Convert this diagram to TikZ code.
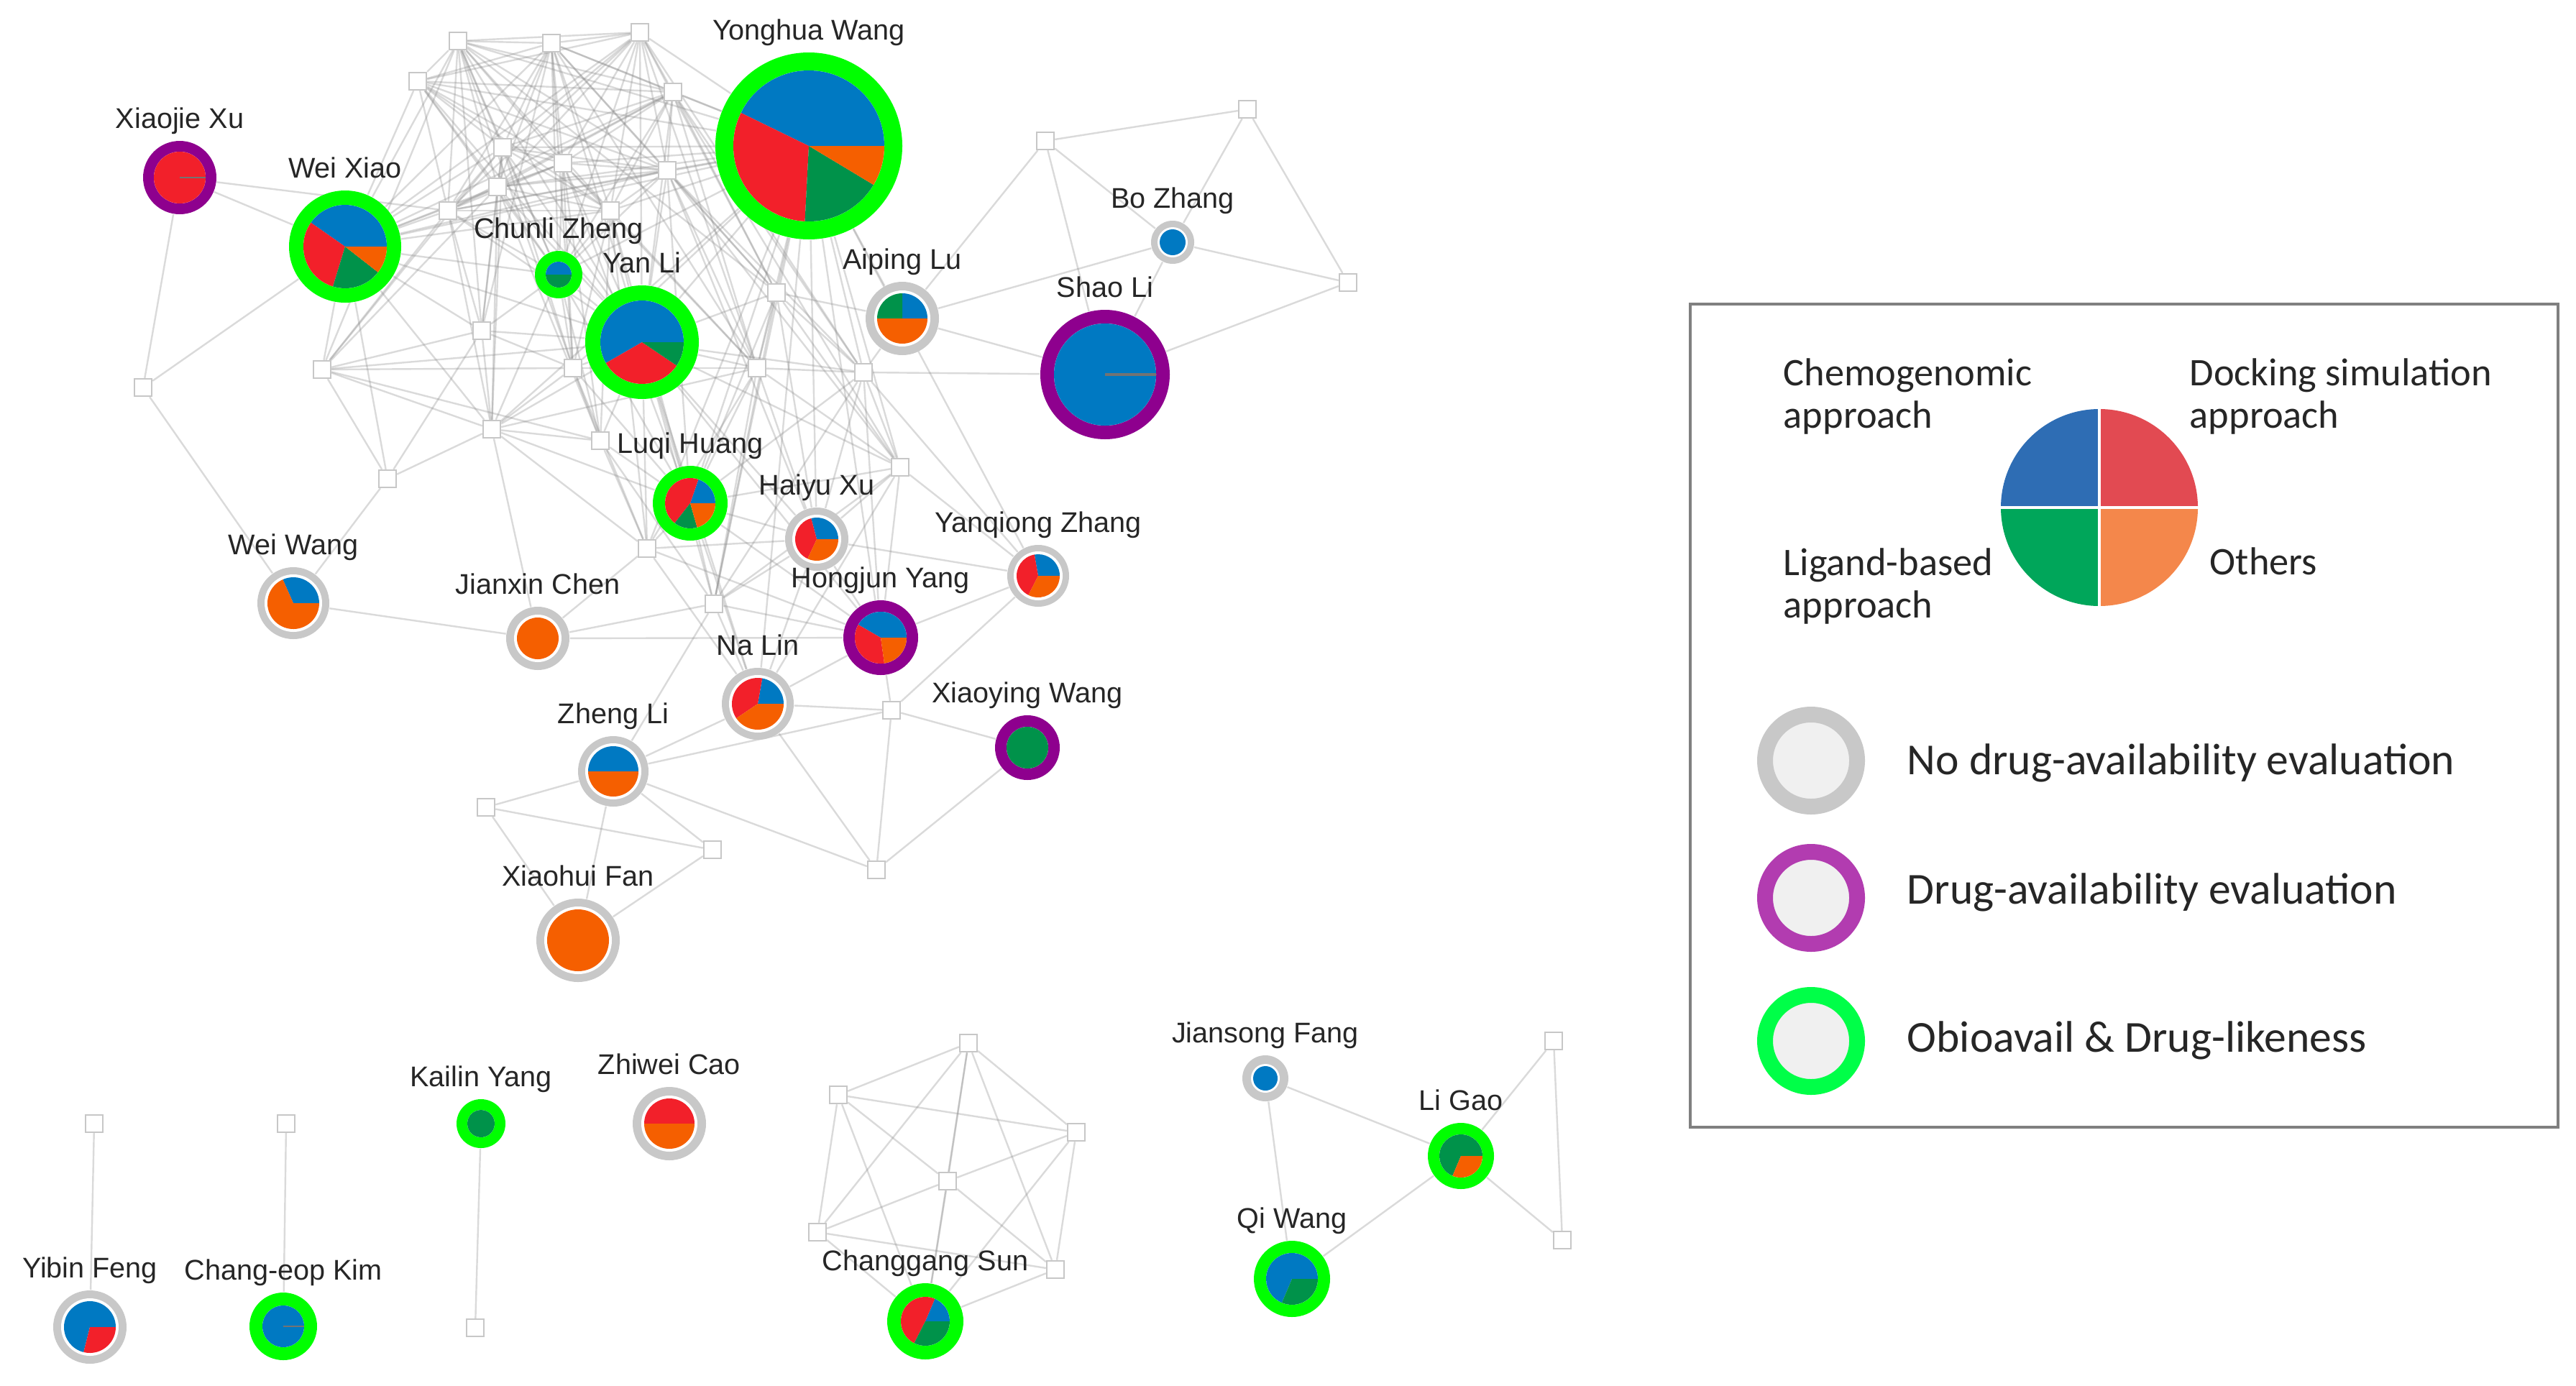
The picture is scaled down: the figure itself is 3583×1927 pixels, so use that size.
\documentclass[tikz,border=0pt]{standalone}
\usepackage{fontspec}
\setmainfont{Liberation Sans}
\newfontfamily\calib{Carlito}
\usetikzlibrary{calc}
\pgfdeclarelayer{bgl}
\pgfdeclarelayer{edgel}
\pgfsetlayers{bgl,edgel,main}
\definecolor{pblue}{HTML}{0079C2}
\definecolor{pred}{HTML}{F2202A}
\definecolor{pgreen}{HTML}{00924A}
\definecolor{porange}{HTML}{F55F00}
\definecolor{rgreen}{HTML}{00FF00}
\definecolor{rpurple}{HTML}{8E008E}
\definecolor{rgrey}{HTML}{C8C8C8}
\definecolor{lblue}{HTML}{2E6DB4}
\definecolor{lred}{HTML}{E24A52}
\definecolor{lgreen}{HTML}{00A65A}
\definecolor{lorange}{HTML}{F4874B}
\definecolor{lpurple}{HTML}{B23CB0}
\definecolor{lgring}{HTML}{00FF48}
\definecolor{legfill}{HTML}{F0F0F0}
\tikzset{
  sqn/.style={draw=black!22, fill=white, line width=0.6pt, minimum size=6pt, inner sep=0pt},
  pnode/.style={circle, inner sep=0pt},
  lbl/.style={font=\fontsize{9.9}{11}\selectfont, text=black!85, inner sep=0pt},
  edge/.style={draw=black!45, opacity=0.32, line width=0.6pt},
  legtxt/.style={font=\calib\fontsize{13.6}{14.75}\selectfont, inner sep=0pt, anchor=base west, align=left, text=black!85},
  legtxtb/.style={font=\calib\fontsize{15.4}{17}\selectfont, inner sep=0pt, anchor=base west, text=black!85},
  legring/.style={circle, inner sep=0pt, minimum size=32pt, line width=5.5pt, fill=legfill},
}
% name, x, y, rin, rout, ring colour, gap, slices, label
\newcommand\pers[9]{%
  \node[pnode, minimum size={#5*0.5pt}] (#1) at (#2,-#3) {};
  \fill[#6] (#1.center) circle[radius=#5];
  \fill[white] (#1.center) circle[radius={#4+#7}];
  \foreach \c/\a/\b in {#8}{\fill[\c] (#1.center) -- ++(\a:#4) arc[start angle=\a, end angle=\b, radius=#4] -- cycle;}
  \node[lbl, anchor=base] at ([yshift=4.25pt]#1.north) {#9};
}
\begin{document}
\begin{tikzpicture}[x=0.25pt,y=0.25pt]
\useasboundingbox (0,0) rectangle (3583,-1927);
\begin{pgfonlayer}{bgl}
\fill[white] (0,0) rectangle (3583,-1927);
\end{pgfonlayer}

% ---------- square nodes ----------
\foreach \n/\x/\y in {s1/637/57, s2/767/60, s3/890/45, s4/581/113, s5/936/128, s6/699/205,
  s7/783/227, s8/692/260, s9/928/237, s10/623/293, s11/849/293, s12/670/460, s13/448/514,
  s14/539/666, s15/684/597, s16/835/613, s17/797/512, s18/1053/512, s19/1080/407,
  s20/1201/518, s21/1252/650, s22/900/763, s23/993/840, s24/1240/988, s25/199/539,
  s26/676/1123, s27/991/1182, s28/1219/1210, s29/1454/196, s30/1735/152, s31/1875/393,
  b1/131/1563, b2/398/1563, b3/661/1847,
  c1/1347/1451, c2/1166/1523, c3/1497/1575, c4/1318/1643, c5/1137/1714, c6/1468/1766,
  g1/2161/1448, g2/2173/1725}
  {\node[sqn] (\n) at (\x,-\y) {};}

% ---------- person nodes ----------
\pers{XX}{250}{247}{36}{51}{rpurple}{0}{pred/0/360}{Xiaojie Xu}
\pers{WX}{480}{343}{58}{78}{rgreen}{0}{pblue/0/145,pred/145/253,pgreen/253/322,porange/322/360}{Wei Xiao}
\pers{CZ}{777}{382}{18}{33}{rgreen}{0}{pblue/0/180,pgreen/180/360}{Chunli Zheng}
\pers{YW}{1125}{203}{105}{130}{rgreen}{0}{pblue/0/154,pred/154/267,pgreen/267/329,porange/329/360}{Yonghua Wang}
\pers{YL}{893}{476}{58}{79}{rgreen}{0}{pblue/0/210,pred/210/326,pgreen/326/360}{Yan Li}
\pers{AL}{1255}{443}{35}{51}{rgrey}{4}{pblue/0/90,pgreen/90/180,porange/180/360}{Aiping Lu}
\pers{BZ}{1631}{337}{18}{30}{rgrey}{3}{pblue/0/360}{Bo Zhang}
\pers{SL}{1537}{521}{71}{90}{rpurple}{0}{pblue/0/360}{Shao Li}
\pers{LH}{960}{700}{35}{52}{rgreen}{0}{pblue/0/71,pred/71/232,pgreen/232/286,porange/286/360}{Luqi Huang}
\pers{HX}{1136}{750}{30}{44}{rgrey}{4}{pblue/0/105,pred/105/245,porange/245/360}{Haiyu Xu}
\pers{YZ}{1444}{801}{30}{43}{rgrey}{4}{pblue/0/100,pred/100/243,porange/243/360}{Yanqiong Zhang}
\pers{HY}{1225}{887}{36}{52}{rpurple}{0}{pblue/0/150,pred/150/278,porange/278/360}{Hongjun Yang}
\pers{NL}{1054}{979}{36}{50}{rgrey}{4}{pblue/0/80,pred/80/214,porange/214/360}{Na Lin}
\pers{XW}{1429}{1040}{29}{45}{rpurple}{0}{pgreen/0/360}{Xiaoying Wang}
\pers{WW}{408}{839}{36}{50}{rgrey}{4}{pblue/0/114,porange/114/360}{Wei Wang}
\pers{JC}{748}{888}{29}{44}{rgrey}{4}{porange/0/360}{Jianxin Chen}
\pers{ZL}{853}{1073}{35}{49}{rgrey}{4}{pblue/0/180,porange/180/360}{Zheng Li}
\pers{XF}{804}{1308}{43}{58}{rgrey}{4}{porange/0/360}{Xiaohui Fan}
\pers{KY}{669}{1563}{19}{34}{rgreen}{0}{pgreen/0/360}{Kailin Yang}
\pers{ZC}{931}{1563}{35}{51}{rgrey}{4}{pred/0/180,porange/180/360}{Zhiwei Cao}
\pers{YF}{125}{1846}{36}{51}{rgrey}{4}{pblue/0/256,pred/256/360}{Yibin Feng}
\pers{CK}{394}{1845}{29}{47}{rgreen}{0}{pblue/0/360}{Chang-eop Kim}
\pers{CS}{1287}{1838}{34}{53}{rgreen}{0}{pblue/0/67,pred/67/243,pgreen/243/360}{Changgang Sun}
\pers{JF}{1760}{1500}{17}{32}{rgrey}{3}{pblue/0/360}{Jiansong Fang}
\pers{LG}{2032}{1608}{30}{46}{rgreen}{0}{pgreen/0/247,porange/247/360}{Li Gao}
\pers{QW}{1797}{1779}{36}{53}{rgreen}{0}{pblue/0/247,pgreen/247/360}{Qi Wang}
\draw[black!55, line width=0.8pt] (SL.center) -- ++(71,0);
\draw[black!55, line width=0.6pt] (XX.center) -- ++(36,0);
\draw[black!55, line width=0.6pt] (CK.center) -- ++(29,0);

% ---------- edges ----------
\begin{pgfonlayer}{edgel}
\foreach \a [count=\i] in {s1,s2,s3,s4,s5,s6,s7,s8,s9,s10,s11,WX,CZ,YL,YW}{
  \foreach \b [count=\j] in {s1,s2,s3,s4,s5,s6,s7,s8,s9,s10,s11,WX,CZ,YL,YW}{
    \ifnum\j>\i \draw[edge] (\a) -- (\b); \fi
  }
}
\foreach \a/\b in {WX/s12, WX/s13, WX/s14, WX/s15, WX/s25, WX/XX,
 CZ/s12, CZ/s15, CZ/s17, CZ/s16, CZ/LH,
 YL/s12, YL/s13, YL/s15, YL/s16, YL/s17, YL/s18, YL/s19, YL/s20, YL/s21, YL/s22, YL/s23, YL/LH, YL/HX, YL/HY, YL/NL,
 YW/s15, YW/s17, YW/s18, YW/s19, YW/s20, YW/s21, YW/s22, YW/s23, YW/LH, YW/HX, YW/HY, YW/AL, YW/NL, YW/YZ,
 s1/s12, s1/s13, s1/s17, s1/s19, s2/s12, s2/s17, s2/s18, s2/s19,
 s3/s18, s3/s19, s3/s20, s5/s18, s5/s19, s5/s20, s5/s21,
 s9/s18, s9/s19, s9/s20, s9/s21, s9/LH, s9/HX,
 s11/s16, s11/s17, s11/s18, s11/s22, s11/LH,
 s6/s12, s6/s13, s6/s15, s6/s17, s8/s12, s8/s13, s8/s15, s8/s16,
 s10/s12, s10/s13, s10/s15, s10/XX, s7/s16, s7/s17, s7/s18, s7/LH,
 s12/s13, s12/s14, s12/s15, s12/s17, s13/s14, s13/s15, s13/s16, s13/s17,
 s14/s15, s14/WW, s15/s16, s15/s17, s15/s18, s15/JC, s15/LH, s15/s22,
 s16/s17, s16/s22, s16/LH, s16/s23, s17/s18, s17/LH, s17/s22,
 s18/s19, s18/s20, s18/s21, s18/LH, s18/HX, s18/s23, s18/s22,
 s19/s20, s19/s21, s19/HX, s19/AL, s19/LH, s19/s23,
 s20/s21, s20/HX, s20/HY, s20/AL, s20/SL, s20/YZ, s20/s23, s20/LH,
 s21/HX, s21/HY, s21/YZ, s21/LH, s21/NL, s21/s23,
 LH/HX, LH/HY, LH/NL, LH/s22, LH/s23, HX/HY, HX/NL, HX/YZ, HX/s23, HX/s22,
 HY/NL, HY/YZ, HY/JC, HY/s24, HY/s23, HY/s22,
 NL/ZL, NL/s24, NL/s28, NL/s23, NL/s22, s23/JC, s23/ZL, s22/JC,
 JC/WW, ZL/s26, ZL/s27, ZL/XF, ZL/s28, ZL/s24, s26/s27, s26/XF, s27/XF,
 s24/XW, s24/s28, s24/YZ, s28/XW, WW/s25, XX/s25,
 AL/s29, AL/BZ, AL/SL, s29/s30, s29/BZ, s29/SL, s30/s31, s30/BZ, BZ/s31, BZ/SL, SL/s31,
 b1/YF, b2/CK, KY/b3,
 c1/c2, c1/c3, c1/c5, c1/c6, c1/CS, c1/c4, c2/c3, c2/c4, c2/c5, c2/CS, c3/c4, c3/c6, c3/CS,
 c4/c5, c4/c6, c4/CS, c5/c6, c5/CS, c6/CS,
 JF/LG, JF/QW, LG/QW, LG/g1, LG/g2, g1/g2}
 {\draw[edge] (\a) -- (\b);}
\end{pgfonlayer}

% ---------- legend ----------
\draw[black!50, line width=1.1pt] (2351,-423) rectangle (3558,-1568);
\node[circle, inner sep=0pt, minimum size=68.5pt] (legpie) at (2920,-706) {};
\fill[lred] (legpie.center) -- ++(0:137) arc[start angle=0, end angle=90, radius=137] -- cycle;
\fill[lblue] (legpie.center) -- ++(90:137) arc[start angle=90, end angle=180, radius=137] -- cycle;
\fill[lgreen] (legpie.center) -- ++(180:137) arc[start angle=180, end angle=270, radius=137] -- cycle;
\fill[lorange] (legpie.center) -- ++(270:137) arc[start angle=270, end angle=360, radius=137] -- cycle;
\draw[white, line width=0.8pt] (legpie.north) -- (legpie.south);
\draw[white, line width=0.8pt] (legpie.west) -- (legpie.east);
\node[legtxt] (lt1) at (2480,-595) {Chemogenomic\\approach};
\node[legtxt] (lt2) at (3045,-595) {Docking simulation\\approach};
\node[legtxt] (lt3) at (2480,-859) {Ligand-based\\approach};
\node[legtxt] (lt4) at (3073,-799) {Others};
\node[legring, draw=rgrey] (lr1) at (2519,-1058) {};
\node[legring, draw=lpurple] (lr2) at (2519,-1249) {};
\node[legring, draw=lgring] (lr3) at (2519,-1448) {};
\node[legtxtb] (lt5) at (2652,-1077) {No drug-availability evaluation};
\node[legtxtb] (lt6) at (2652,-1257) {Drug-availability evaluation};
\node[legtxtb] (lt7) at (2652,-1463) {Obioavail \& Drug-likeness};
\end{tikzpicture}
\end{document}
